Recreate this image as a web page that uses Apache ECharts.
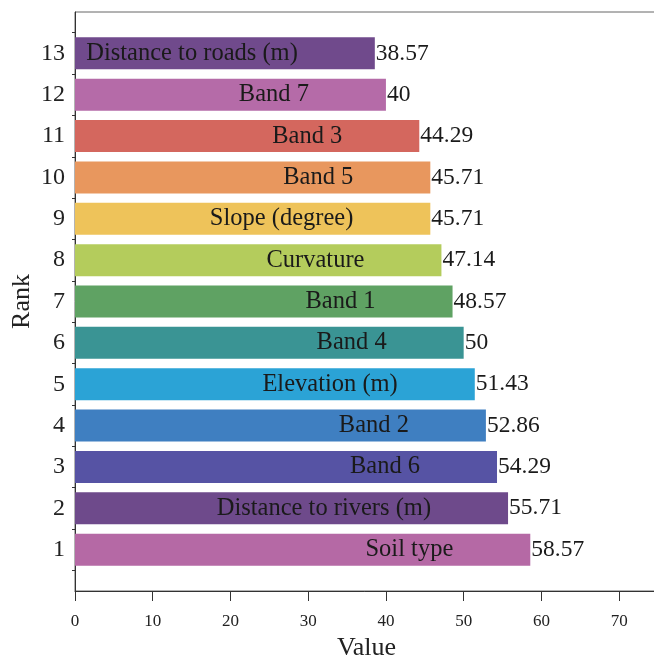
<!DOCTYPE html>
<html>
<head>
<meta charset="utf-8">
<script src="https://cdn.jsdelivr.net/npm/echarts@6/dist/echarts.min.js"></script>
<style>
html,body{margin:0;padding:0;background:#fff;}
#chart{width:654px;height:662px;}
</style>
</head>
<body>
<div id="chart"></div>
<script>
var ranks = ['1','2','3','4','5','6','7','8','9','10','11','12','13'];
var features = ['Soil type','Distance to rivers (m)','Band 6','Band 2','Elevation (m)','Band 4','Band 1','Curvature','Slope (degree)','Band 5','Band 3','Band 7','Distance to roads (m)'];
var values = [58.57,55.71,54.29,52.86,51.43,50,48.57,47.14,45.71,45.71,44.29,40,38.57];
var colors = ['#b569a5','#6e4a8b','#5653a4','#3f7fc1','#2ba3d6','#3a9494','#5fa263','#b4cc5c','#eec35a','#e8975e','#d4675e','#b56ba8','#704a8c'];
var xTicks = {min:0, max:75, interval:10};

var FONT = 'Liberation Serif';
var chart = echarts.init(document.getElementById('chart'), null, {renderer:'canvas'});

var barData = values.map(function(v, i){
  return {value: v, name: features[i], itemStyle: {color: colors[i]}};
});

chart.setOption({
  backgroundColor: '#fff',
  animation: false,
  textStyle: {fontFamily: FONT},
  grid: [
    {left: 75, width: 583, top: 12, height: 579, outerBoundsMode: 'none', containLabel: false,
     show: true, borderColor: '#666', borderWidth: 1, backgroundColor: 'transparent'},
    {left: 75, width: 583, top: 32.68, height: 537.64, outerBoundsMode: 'none', containLabel: false}
  ],
  xAxis: [
    {
      gridIndex: 0, type: 'value', min: xTicks.min, max: xTicks.max, interval: xTicks.interval,
      axisLine: {show: true, lineStyle: {color: '#333', width: 1}},
      axisTick: {show: true, length: 10, inside: false, lineStyle: {color: '#333'}},
      axisLabel: {show: true, fontFamily: FONT, fontSize: 17, color: '#222', margin: 22, showMaxLabel: false},
      splitLine: {show: false},
      name: 'Value', nameLocation: 'middle', nameGap: 41,
      nameTextStyle: {fontFamily: FONT, fontSize: 26, color: '#222'}
    },
    {
      gridIndex: 1, type: 'value', min: xTicks.min, max: xTicks.max, show: false
    }
  ],
  yAxis: [
    {
      gridIndex: 0, type: 'value', min: 0, max: 14,
      axisLine: {show: true, lineStyle: {color: '#333', width: 1}},
      axisTick: {show: false}, axisLabel: {show: false}, splitLine: {show: false},
      name: 'Rank', nameLocation: 'middle', nameGap: 40, nameRotate: 90,
      nameTextStyle: {fontFamily: FONT, fontSize: 26, color: '#222'}
    },
    {
      gridIndex: 1, type: 'category', data: ranks,
      axisLine: {show: false},
      axisTick: {show: true, length: 3, inside: false, alignWithLabel: false, lineStyle: {color: '#333'}},
      axisLabel: {fontFamily: FONT, fontSize: 24, color: '#222', margin: 10},
      splitLine: {show: false}
    }
  ],
  series: [
    {
      type: 'bar', xAxisIndex: 1, yAxisIndex: 1, barWidth: 32,
      data: barData,
      label: {
        show: true, position: 'insideRight', distance: 77,
        formatter: function(p){ return p.name; },
        fontFamily: FONT, fontSize: 24.5, color: '#1a1a1a'
      }
    },
    {
      type: 'bar', xAxisIndex: 1, yAxisIndex: 1, barWidth: 32, barGap: '-100%',
      data: values,
      itemStyle: {color: 'rgba(0,0,0,0)'},
      label: {
        show: true, position: 'right', distance: 1,
        fontFamily: FONT, fontSize: 23.5, color: '#1a1a1a'
      },
      z: 3
    }
  ]
});
</script>
</body>
</html>
